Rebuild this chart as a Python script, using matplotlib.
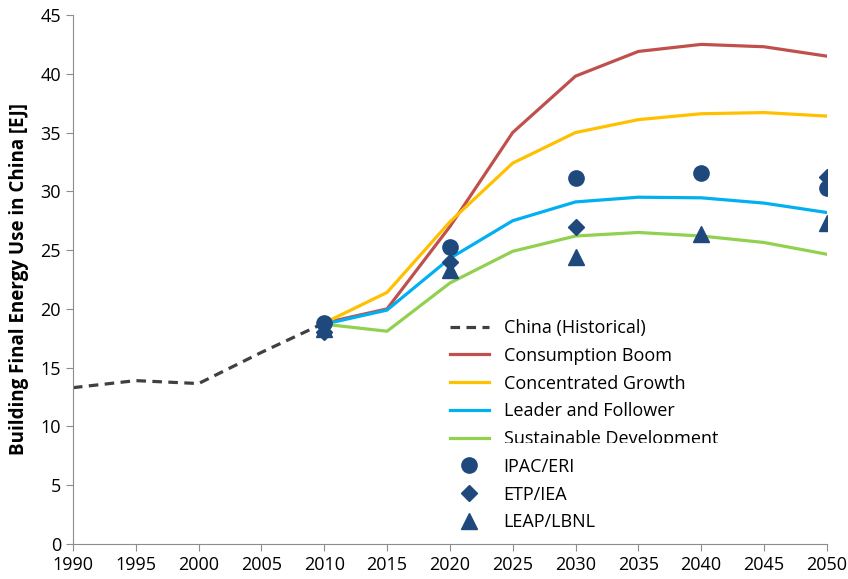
import matplotlib
matplotlib.use("Agg")
import matplotlib.pyplot as plt
from matplotlib.transforms import Bbox, IdentityTransform, TransformedBbox

plt.rcParams["font.family"] = ["Open Sans", "DejaVu Sans"]

hist_years = [1990, 1995, 2000, 2005, 2010]
hist_values = [13.3, 13.9, 13.65, 16.3, 18.8]

proj_years = [2010, 2015, 2020, 2025, 2030, 2035, 2040, 2045, 2050]
consumption_boom = [18.8, 20.0, 27.0, 35.0, 39.8, 41.9, 42.5, 42.3, 41.5]
concentrated_growth = [18.8, 21.4, 27.4, 32.4, 35.0, 36.1, 36.6, 36.7, 36.4]
leader_follower = [18.7, 19.9, 24.3, 27.5, 29.1, 29.5, 29.45, 29.0, 28.2]
sustainable_dev = [18.7, 18.1, 22.2, 24.9, 26.2, 26.5, 26.2, 25.65, 24.65]

ipac_years = [2010, 2020, 2030, 2040, 2050]
ipac_values = [18.8, 25.3, 31.15, 31.6, 30.25]
etp_years = [2010, 2020, 2030, 2050]
etp_values = [18.0, 24.0, 27.0, 31.2]
leap_years = [2010, 2020, 2030, 2040, 2050]
leap_values = [18.3, 23.3, 24.4, 26.4, 27.3]

fig = plt.figure(figsize=(8.48, 5.79), dpi=100)
ax = fig.add_axes([0.086, 0.0604, 0.889, 0.9137])

ax.plot(hist_years, hist_values, color="#404040", lw=2.3, ls=(0, (3, 2)),
        label="China (Historical)")
ax.plot(proj_years, consumption_boom, color="#C0504D", lw=2.3, label="Consumption Boom")
ax.plot(proj_years, concentrated_growth, color="#FFC000", lw=2.3, label="Concentrated Growth")
ax.plot(proj_years, leader_follower, color="#00B0F0", lw=2.3, label="Leader and Follower")
ax.plot(proj_years, sustainable_dev, color="#92D050", lw=2.3, label="Sustainable Development")

mk = "#1F497D"
ax.plot(ipac_years, ipac_values, ls="none", marker="o", ms=11, color=mk, label="IPAC/ERI")
ax.plot(etp_years, etp_values, ls="none", marker="D", ms=8, color=mk, label="ETP/IEA")
ax.plot(leap_years, leap_values, ls="none", marker="^", ms=11, color=mk, label="LEAP/LBNL")

ax.set_xlim(1990, 2050)
ax.set_ylim(0, 45)
ax.set_xticks(range(1990, 2051, 5))
ax.set_yticks(range(0, 46, 5))
for side in ("top", "right"):
    ax.spines[side].set_visible(False)
for side in ("left", "bottom"):
    ax.spines[side].set_color("#8C8C8C")
ax.tick_params(colors="#8C8C8C", labelcolor="black", labelsize=13, length=5, direction="out")
ax.set_ylabel("Building Final Energy Use in China [EJ]", fontsize=13.5, fontweight="bold",
              labelpad=8)

leg = ax.legend(loc="upper left", bbox_to_anchor=(0.49, 0.439), frameon=False,
                fontsize=13, handlelength=2.2, labelspacing=0.54, borderaxespad=0,
                handletextpad=0.8)

# the legend box is cut off just below the baseline of its fifth row
fig.canvas.draw()
txt = leg.get_texts()[4]
bb = txt.get_window_extent()
clip = TransformedBbox(Bbox([[0, bb.y0 + 5], [848, 579]]), IdentityTransform())
txt.set_clip_box(clip)
txt.set_clip_on(True)

fig.savefig("out.png", dpi=100)
